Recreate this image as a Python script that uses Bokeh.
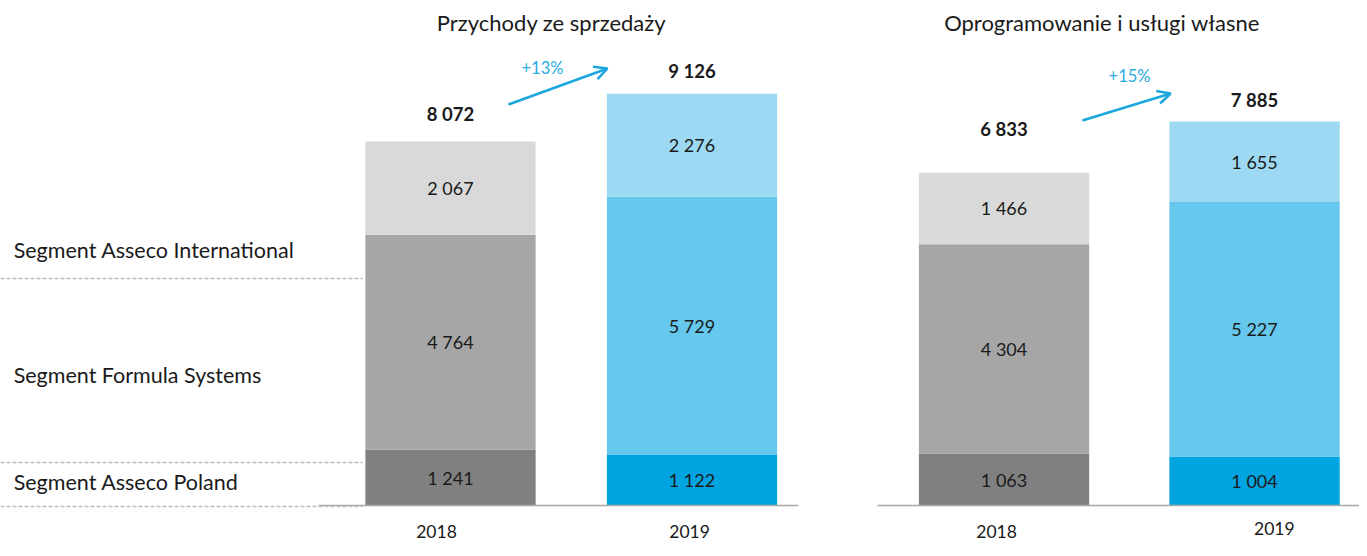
from bokeh.plotting import figure
from bokeh.layouts import row
from bokeh.models import Arrow, OpenHead, ColumnDataSource
from bokeh.core.properties import value
from bokeh.embed import file_html
from bokeh.resources import INLINE

# ---------------- data ----------------
years = ["2018", "2019"]
segments = ["Segment Asseco Poland", "Segment Formula Systems", "Segment Asseco International"]
titles = ["Przychody ze sprzedaży", "Oprogramowanie i usługi własne"]

rev_poland = [1241, 1122]
rev_formula = [4764, 5729]
rev_intl = [2067, 2276]
rev_total = [8072, 9126]
rev_growth = "+13%"

sw_poland = [1063, 1004]
sw_formula = [4304, 5227]
sw_intl = [1466, 1655]
sw_total = [6833, 7885]
sw_growth = "+15%"

# ---------------- style ----------------
FONT = "Lato"
GREYS = ["#808080", "#A6A6A6", "#D9D9D9"]
BLUES = ["#00A4E0", "#66C8EC", "#9DD9F2"]
ARROW_C = "#1BA6DE"
TXT = "#1a1a1a"
H = 548
BASE = 505  # baseline position from top of panel (px)


def fmt(v):
    return f"{v:,}".replace(",", " ")


def make_panel(width, x_range, S, stacks, totals, bar_w,
               title, title_x, total_offsets, growth, arrow, growth_pos,
               year_pos, base_x):
    p = figure(width=width, height=H, x_range=x_range,
               y_range=(-(H - BASE) / S, BASE / S),
               output_backend="svg", toolbar_location=None, min_border=0,
               outline_line_color=None, background_fill_color="white",
               border_fill_color="white")
    p.axis.visible = False
    p.grid.visible = False

    xs = [0, 1]
    bottoms = [0, 0]
    for seg_idx, seg_vals in enumerate(stacks):
        tops = [b + v for b, v in zip(bottoms, seg_vals)]
        colors = [GREYS[seg_idx], BLUES[seg_idx]]
        src = ColumnDataSource(dict(x=xs, bottom=bottoms, top=tops, color=colors,
                                    mid=[(b + t) / 2 for b, t in zip(bottoms, tops)],
                                    label=[fmt(v) for v in seg_vals]))
        p.vbar(x="x", bottom="bottom", top="top", width=bar_w, fill_color="color",
               line_color=None, source=src)
        p.text(x="x", y="mid", text="label", source=src, text_align="center",
               text_baseline="middle", text_font=value(FONT), text_font_size="18px",
               text_color=TXT)
        bottoms = tops

    # baseline
    p.segment(x0=[base_x[0]], y0=[0], x1=[base_x[1]], y1=[0], line_color="#A8A8A8",
              line_width=1.5)

    # totals
    tsrc = ColumnDataSource(dict(x=xs, y=totals, t=[fmt(v) for v in totals],
                                 off=total_offsets))
    p.text(x="x", y="y", y_offset="off", text="t", source=tsrc, text_align="center",
           text_baseline="middle", text_font=value(FONT), text_font_size="18.5px",
           text_font_style="bold", text_color=TXT)

    # title
    p.text(x=[title_x], y=[(BASE - 22) / S], text=[title], text_align="center",
           text_baseline="middle", text_font=value(FONT), text_font_size="22px",
           text_color=TXT)

    # growth arrow
    p.add_layout(Arrow(end=OpenHead(size=13, line_color=ARROW_C, line_width=2.5),
                       x_start=arrow[0], y_start=(BASE - arrow[1]) / S,
                       x_end=arrow[2], y_end=(BASE - arrow[3]) / S,
                       line_color=ARROW_C, line_width=2.5))
    p.text(x=[growth_pos[0]], y=[(BASE - growth_pos[1]) / S], text=[growth],
           text_align="center", text_baseline="middle", text_font=value(FONT),
           text_font_size="16.5px", text_color="#2AABE2")

    # year labels
    p.text(x=[yp[0] for yp in year_pos], y=[(BASE - yp[1]) / S for yp in year_pos],
           text=years, text_align="center", text_baseline="middle",
           text_font=value(FONT), text_font_size="17.5px", text_color=TXT)
    return p


# Left panel: ~0.0451 px per unit, bar centres 241.5 px apart
S1 = 0.0451
p1 = make_panel(
    width=858, x_range=(-1.8634, 1.6894), S=S1,
    stacks=[rev_poland, rev_formula, rev_intl], totals=rev_total, bar_w=0.705,
    title=titles[0], title_x=0.418,
    total_offsets=[-27, -23], growth=rev_growth,
    arrow=(0.240, 104, 0.650, 68),
    growth_pos=(0.381, 67),
    year_pos=[(-0.058, 531), (0.990, 531)],
    base_x=(-0.546, 1.441))

# segment names with dashed separators (left panel only)
label_y = [(BASE - 481) / S1, (BASE - 374) / S1, (BASE - 249) / S1]
p1.text(x=[-1.809] * 3, y=label_y, text=segments, text_align="left",
        text_baseline="middle", text_font=value(FONT), text_font_size="21.5px",
        text_color=TXT)
sep_y = [(BASE - 506) / S1, (BASE - 462) / S1, (BASE - 278) / S1]
p1.segment(x0=[-1.8634] * 3, y0=sep_y, x1=[-0.364] * 3, y1=sep_y, line_color="#BDBDBD",
           line_width=1.5, line_dash="4 2")

# Right panel: ~0.0487 px per unit, bar centres 250.5 px apart
S2 = 0.0487
p2 = make_panel(
    width=501, x_range=(-0.581, 1.419), S=S2,
    stacks=[sw_poland, sw_formula, sw_intl], totals=sw_total, bar_w=0.68,
    title=titles[1], title_x=0.391,
    total_offsets=[-44, -22], growth=sw_growth,
    arrow=(0.313, 120, 0.665, 93),
    growth_pos=(0.501, 75),
    year_pos=[(-0.03, 531), (1.079, 528)],
    base_x=(-0.505, 1.419))

layout = row(p1, p2, spacing=0)
open("out.html", "w").write(file_html(layout, INLINE))
